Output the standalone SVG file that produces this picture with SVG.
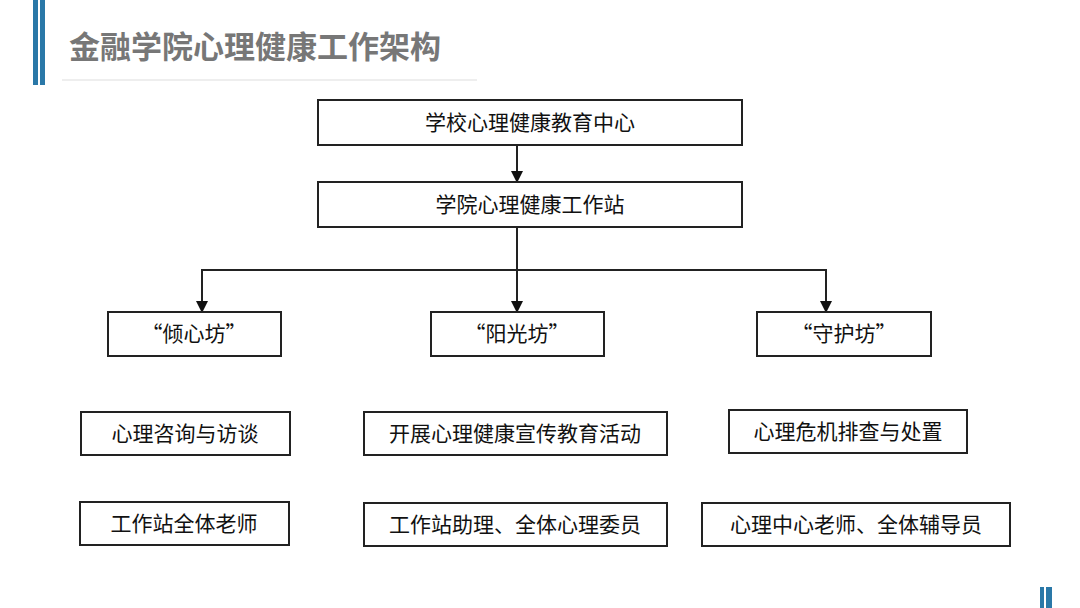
<svg xmlns="http://www.w3.org/2000/svg" width="1080" height="608" viewBox="0 0 1080 608">
<defs>
<style>
.box{fill:#fff;stroke:#222;stroke-width:2}
.t{font-family:"Noto Sans CJK SC",sans-serif;font-size:21px;fill:#111;text-anchor:middle;dominant-baseline:central}
.c{fill:none;stroke:#222;stroke-width:2}
.bar{fill:#2a78a8}
</style>
<marker id="ah" markerWidth="12" markerHeight="12" refX="10" refY="6" orient="auto" markerUnits="userSpaceOnUse" viewBox="0 0 12 12">
<path d="M0,0 L12,6 L0,12 Z" fill="#111"/>
</marker>
</defs>
<rect width="1080" height="608" fill="#fff"/>
<g id="header">
<rect class="bar" x="33" y="0" width="5" height="85"/>
<rect class="bar" x="40" y="0" width="5" height="85"/>
<text x="69" y="44" font-family="'Noto Sans CJK SC',sans-serif" font-size="31" font-weight="bold" fill="#777" dominant-baseline="central">金融学院心理健康工作架构</text>
<line x1="62" y1="80" x2="477" y2="80" stroke="#ddd" stroke-width="1"/>
<rect class="bar" x="1040" y="587" width="4" height="21"/>
<rect class="bar" x="1046" y="587" width="6" height="21"/>
</g>
<g id="connectors">
<line class="c" x1="517" y1="145" x2="517" y2="181" marker-end="url(#ah)"/>
<line class="c" x1="517" y1="227" x2="517" y2="311" marker-end="url(#ah)"/>
<polyline class="c" points="202,311 202,270 826,270 826,311" marker-end="url(#ah)"/>
<line x1="202" y1="272" x2="202" y2="311" class="c" marker-end="url(#ah)"/>
</g>
<g id="n1"><rect class="box" x="318" y="100" width="424" height="45"/><text class="t" x="530" y="121">学校心理健康教育中心</text></g>
<g id="n2"><rect class="box" x="318" y="182" width="424" height="45"/><text class="t" x="530" y="203">学院心理健康工作站</text></g>
<g id="n3"><rect class="box" x="108" y="312" width="173" height="44"/><text class="t" x="194" y="332">“倾心坊”</text></g>
<g id="n4"><rect class="box" x="431" y="312" width="173" height="44"/><text class="t" x="517" y="332">“阳光坊”</text></g>
<g id="n5"><rect class="box" x="757" y="312" width="174" height="44"/><text class="t" x="844" y="332">“守护坊”</text></g>
<g id="n6"><rect class="box" x="81" y="412" width="209" height="43"/><text class="t" x="185" y="432">心理咨询与访谈</text></g>
<g id="n7"><rect class="box" x="364" y="412" width="303" height="43"/><text class="t" x="515" y="432">开展心理健康宣传教育活动</text></g>
<g id="n8"><rect class="box" x="729" y="410" width="238" height="43"/><text class="t" x="848" y="430">心理危机排查与处置</text></g>
<g id="n9"><rect class="box" x="80" y="502" width="209" height="43"/><text class="t" x="184" y="522">工作站全体老师</text></g>
<g id="n10"><rect class="box" x="364" y="503" width="303" height="43"/><text class="t" x="515" y="523">工作站助理、全体心理委员</text></g>
<g id="n11"><rect class="box" x="702" y="503" width="308" height="43"/><text class="t" x="856" y="523">心理中心老师、全体辅导员</text></g>
</svg>
